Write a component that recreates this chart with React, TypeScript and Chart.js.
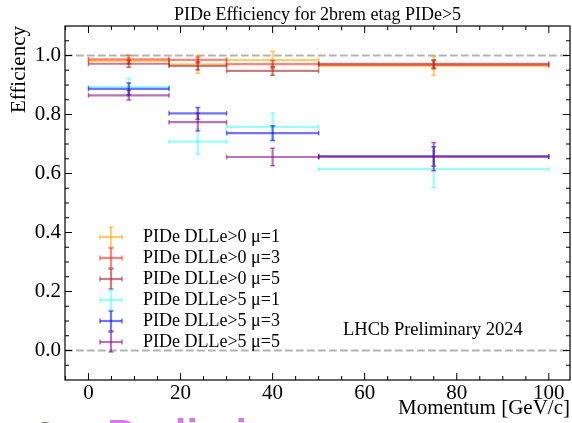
import React, { useEffect, useRef } from 'react';
import { Chart, registerables } from 'chart.js';

Chart.register(...registerables);

// ---------- data ----------
const binLow = [0, 17.5, 30, 50];
const binHigh = [17.5, 30, 50, 100];
const binCenter = [8.75, 23.75, 40, 75];

const seriesLabels = [
  'PIDe DLLe>0 μ=1',
  'PIDe DLLe>0 μ=3',
  'PIDe DLLe>0 μ=5',
  'PIDe DLLe>5 μ=1',
  'PIDe DLLe>5 μ=3',
  'PIDe DLLe>5 μ=5',
];
const seriesColors = [
  'rgba(255,165,0,0.55)',
  'rgba(255,30,20,0.55)',
  'rgba(165,42,42,0.6)',
  'rgba(0,255,255,0.4)',
  'rgba(0,0,255,0.55)',
  'rgba(128,0,128,0.55)',
];

const eff0mu1 = [0.982, 0.970, 0.984, 0.965];
const err0mu1 = [0.012, 0.030, 0.030, 0.032];
const eff0mu3 = [0.987, 0.985, 0.971, 0.968];
const err0mu3 = [0.014, 0.010, 0.012, 0.014];
const eff0mu5 = [0.972, 0.965, 0.948, 0.972];
const err0mu5 = [0.012, 0.014, 0.015, 0.014];
const eff5mu1 = [0.893, 0.708, 0.758, 0.615];
const err5mu1 = [0.030, 0.043, 0.047, 0.063];
const eff5mu3 = [0.887, 0.804, 0.737, 0.658];
const err5mu3 = [0.020, 0.020, 0.025, 0.033];
const eff5mu5 = [0.865, 0.774, 0.656, 0.657];
const err5mu5 = [0.016, 0.030, 0.030, 0.048];

const seriesValues = [eff0mu1, eff0mu3, eff0mu5, eff5mu1, eff5mu3, eff5mu5];
const seriesErrors = [err0mu1, err0mu3, err0mu5, err5mu1, err5mu3, err5mu5];

const xTicks = [0, 20, 40, 60, 80, 100];
const yTicks = [0.0, 0.2, 0.4, 0.6, 0.8, 1.0];
const refLines = [0.0, 1.0];

const X_MIN = -5.1;
const X_MAX = 104.6;
const Y_MIN = -0.1;
const Y_MAX = 1.1;

const SERIF = "'Liberation Serif', 'Times New Roman', serif";

// ---------- plugins ----------
const errorBarPlugin = {
  id: 'errorBars',
  afterDatasetsDraw(chart: any) {
    const { ctx, chartArea, scales } = chart;
    const xs = scales.x;
    const ys = scales.y;
    ctx.save();
    ctx.beginPath();
    ctx.rect(chartArea.left, chartArea.top, chartArea.right - chartArea.left, chartArea.bottom - chartArea.top);
    ctx.clip();
    chart.data.datasets.forEach((ds: any) => {
      if (!ds.errorBars) return;
      ds.data.forEach((p: any) => {
        const x0 = xs.getPixelForValue(p.xMin);
        const x1 = xs.getPixelForValue(p.xMax);
        const xc = xs.getPixelForValue(p.x);
        const yc = ys.getPixelForValue(p.y);
        const y0 = ys.getPixelForValue(p.yMin);
        const y1 = ys.getPixelForValue(p.yMax);
        ctx.strokeStyle = ds.borderColor;
        ctx.lineWidth = 2.2;
        ctx.beginPath();
        ctx.moveTo(x0, yc);
        ctx.lineTo(x1, yc);
        ctx.stroke();
        ctx.beginPath();
        ctx.moveTo(xc, y0);
        ctx.lineTo(xc, y1);
        ctx.stroke();
        const cap = 2.5;
        ctx.lineWidth = 1.5;
        ctx.beginPath();
        ctx.moveTo(x0, yc - cap); ctx.lineTo(x0, yc + cap);
        ctx.moveTo(x1, yc - cap); ctx.lineTo(x1, yc + cap);
        ctx.moveTo(xc - cap, y0); ctx.lineTo(xc + cap, y0);
        ctx.moveTo(xc - cap, y1); ctx.lineTo(xc + cap, y1);
        ctx.stroke();
      });
    });
    ctx.restore();
  },
};

const framePlugin = {
  id: 'frameTicks',
  afterDraw(chart: any) {
    const { ctx, chartArea, scales } = chart;
    const xs = scales.x;
    const ys = scales.y;
    const { left, right, top, bottom } = chartArea;
    ctx.save();
    ctx.strokeStyle = '#000';
    ctx.lineWidth = 1.2;
    ctx.strokeRect(left, top, right - left, bottom - top);
    ctx.lineWidth = 1;
    const major = 7;
    const minor = 4;
    ctx.beginPath();
    for (let v = -5; v <= 105; v += 5) {
      if (v <= X_MIN || v >= X_MAX) continue;
      const px = xs.getPixelForValue(v);
      const len = v % 20 === 0 ? major : minor;
      ctx.moveTo(px, bottom); ctx.lineTo(px, bottom - len);
      ctx.moveTo(px, top); ctx.lineTo(px, top + len);
    }
    for (let i = -2; i <= 22; i++) {
      const v = i * 0.05;
      if (v <= Y_MIN + 1e-6 || v >= Y_MAX - 1e-6) continue;
      const py = ys.getPixelForValue(v);
      const len = i % 4 === 0 ? major : minor;
      ctx.moveTo(left, py); ctx.lineTo(left + len, py);
      ctx.moveTo(right, py); ctx.lineTo(right - len, py);
    }
    ctx.stroke();
    ctx.restore();
  },
};

const legendPlugin = {
  id: 'innerLegend',
  afterDraw(chart: any) {
    const { ctx } = chart;
    ctx.save();
    const startY = 237;
    const step = 21;
    const mx = 111;
    chart.data.datasets.forEach((ds: any) => {
      if (!ds.errorBars) return;
      const idx = ds.seriesIndex;
      const y = startY + idx * step;
      ctx.strokeStyle = ds.borderColor;
      ctx.lineWidth = 2.2;
      ctx.beginPath(); ctx.moveTo(mx - 11, y); ctx.lineTo(mx + 11, y); ctx.stroke();
      ctx.beginPath(); ctx.moveTo(mx, y - 10); ctx.lineTo(mx, y + 10); ctx.stroke();
      ctx.lineWidth = 1.5;
      ctx.beginPath();
      ctx.moveTo(mx - 11, y - 2.5); ctx.lineTo(mx - 11, y + 2.5);
      ctx.moveTo(mx + 11, y - 2.5); ctx.lineTo(mx + 11, y + 2.5);
      ctx.moveTo(mx - 2.5, y - 10); ctx.lineTo(mx + 2.5, y - 10);
      ctx.moveTo(mx - 2.5, y + 10); ctx.lineTo(mx + 2.5, y + 10);
      ctx.stroke();
      ctx.fillStyle = '#000';
      ctx.font = `18px ${SERIF}`;
      ctx.textBaseline = 'middle';
      ctx.textAlign = 'left';
      ctx.fillText(ds.label, 143, y);
    });
    ctx.restore();
  },
};

const annotationPlugin = {
  id: 'annotations',
  afterDraw(chart: any) {
    const { ctx } = chart;
    ctx.save();
    ctx.fillStyle = '#000';
    ctx.font = `18.5px ${SERIF}`;
    ctx.textBaseline = 'alphabetic';
    ctx.textAlign = 'left';
    ctx.fillText('LHCb Preliminary 2024', 343, 335);
    // partially cropped content at the bottom edge
    ctx.fillStyle = 'rgba(110,90,55,0.85)';
    ctx.beginPath();
    ctx.arc(45, 434, 12, 0, Math.PI * 2);
    ctx.fill();
    ctx.fillStyle = '#d67ae6';
    ctx.font = "bold 42px 'Liberation Sans', sans-serif";
    ctx.fillText('Preliminary', 107, 449);
    ctx.restore();
  },
};

export default function App() {
  const canvasRef = useRef<HTMLCanvasElement | null>(null);

  useEffect(() => {
    document.body.style.margin = '0';
    const canvas = canvasRef.current;
    if (!canvas) return;

    const refDatasets = refLines.map((v) => ({
      label: `ref ${v}`,
      data: [{ x: X_MIN, y: v }, { x: X_MAX, y: v }],
      showLine: true,
      borderColor: '#b3b3b3',
      borderWidth: 2,
      borderDash: [7.7, 3.3],
      pointRadius: 0,
      fill: false,
    }));

    const seriesDatasets = seriesLabels.map((label, si) => ({
      label,
      seriesIndex: si,
      errorBars: true,
      borderColor: seriesColors[si],
      backgroundColor: seriesColors[si],
      pointRadius: 0,
      pointHoverRadius: 0,
      showLine: false,
      data: binCenter.map((x, i) => ({
        x,
        y: seriesValues[si][i],
        xMin: binLow[i],
        xMax: binHigh[i],
        yMin: seriesValues[si][i] - seriesErrors[si][i],
        yMax: seriesValues[si][i] + seriesErrors[si][i],
      })),
    }));

    const chart = new Chart(canvas, {
      type: 'scatter',
      data: { datasets: [...refDatasets, ...seriesDatasets] as any },
      options: {
        responsive: false,
        animation: false,
        devicePixelRatio: 1,
        events: [],
        layout: { padding: { left: 0, right: 2, top: 0, bottom: 0 } },
        plugins: {
          legend: { display: false },
          tooltip: { enabled: false },
          title: {
            display: true,
            text: 'PIDe Efficiency for 2brem etag PIDe>5',
            color: '#000',
            font: { family: SERIF, size: 18, weight: 'normal' as any, lineHeight: 1.2 },
            padding: { top: 4.4, bottom: 0 },
            fullSize: false,
          },
        },
        scales: {
          x: {
            type: 'linear',
            min: X_MIN,
            max: X_MAX,
            afterBuildTicks: (s: any) => {
              s.ticks = xTicks.map((v) => ({ value: v }));
            },
            afterFit: (s: any) => {
              s.height = 43;
            },
            ticks: {
              autoSkip: false,
              maxRotation: 0,
              color: '#000',
              padding: 1,
              font: { family: SERIF, size: 21 },
              callback: (v: any) => String(v),
            },
            grid: { display: false, drawTicks: false },
            border: { display: false },
            title: {
              display: true,
              text: 'Momentum [GeV/c]',
              align: 'end',
              color: '#000',
              font: { family: SERIF, size: 21 },
              padding: { top: 0, bottom: 2 },
            },
          },
          y: {
            type: 'linear',
            min: Y_MIN,
            max: Y_MAX,
            afterBuildTicks: (s: any) => {
              s.ticks = yTicks.map((v) => ({ value: v }));
            },
            afterFit: (s: any) => {
              s.width = 65;
            },
            ticks: {
              autoSkip: false,
              color: '#000',
              padding: 4,
              font: { family: SERIF, size: 21 },
              callback: (v: any) => Number(v).toFixed(1),
            },
            grid: { display: false, drawTicks: false },
            border: { display: false },
            title: {
              display: true,
              text: 'Efficiency',
              align: 'end',
              color: '#000',
              font: { family: SERIF, size: 21 },
              padding: { top: 7, bottom: 0 },
            },
          },
        },
      } as any,
      plugins: [errorBarPlugin, framePlugin, legendPlugin, annotationPlugin],
    });

    return () => {
      chart.destroy();
    };
  }, []);

  return (
    <div style={{ position: 'absolute', left: 0, top: 0, width: 572, height: 423, background: '#fff' }}>
      <canvas ref={canvasRef} width={572} height={423} style={{ display: 'block', width: 572, height: 423 }} />
    </div>
  );
}
